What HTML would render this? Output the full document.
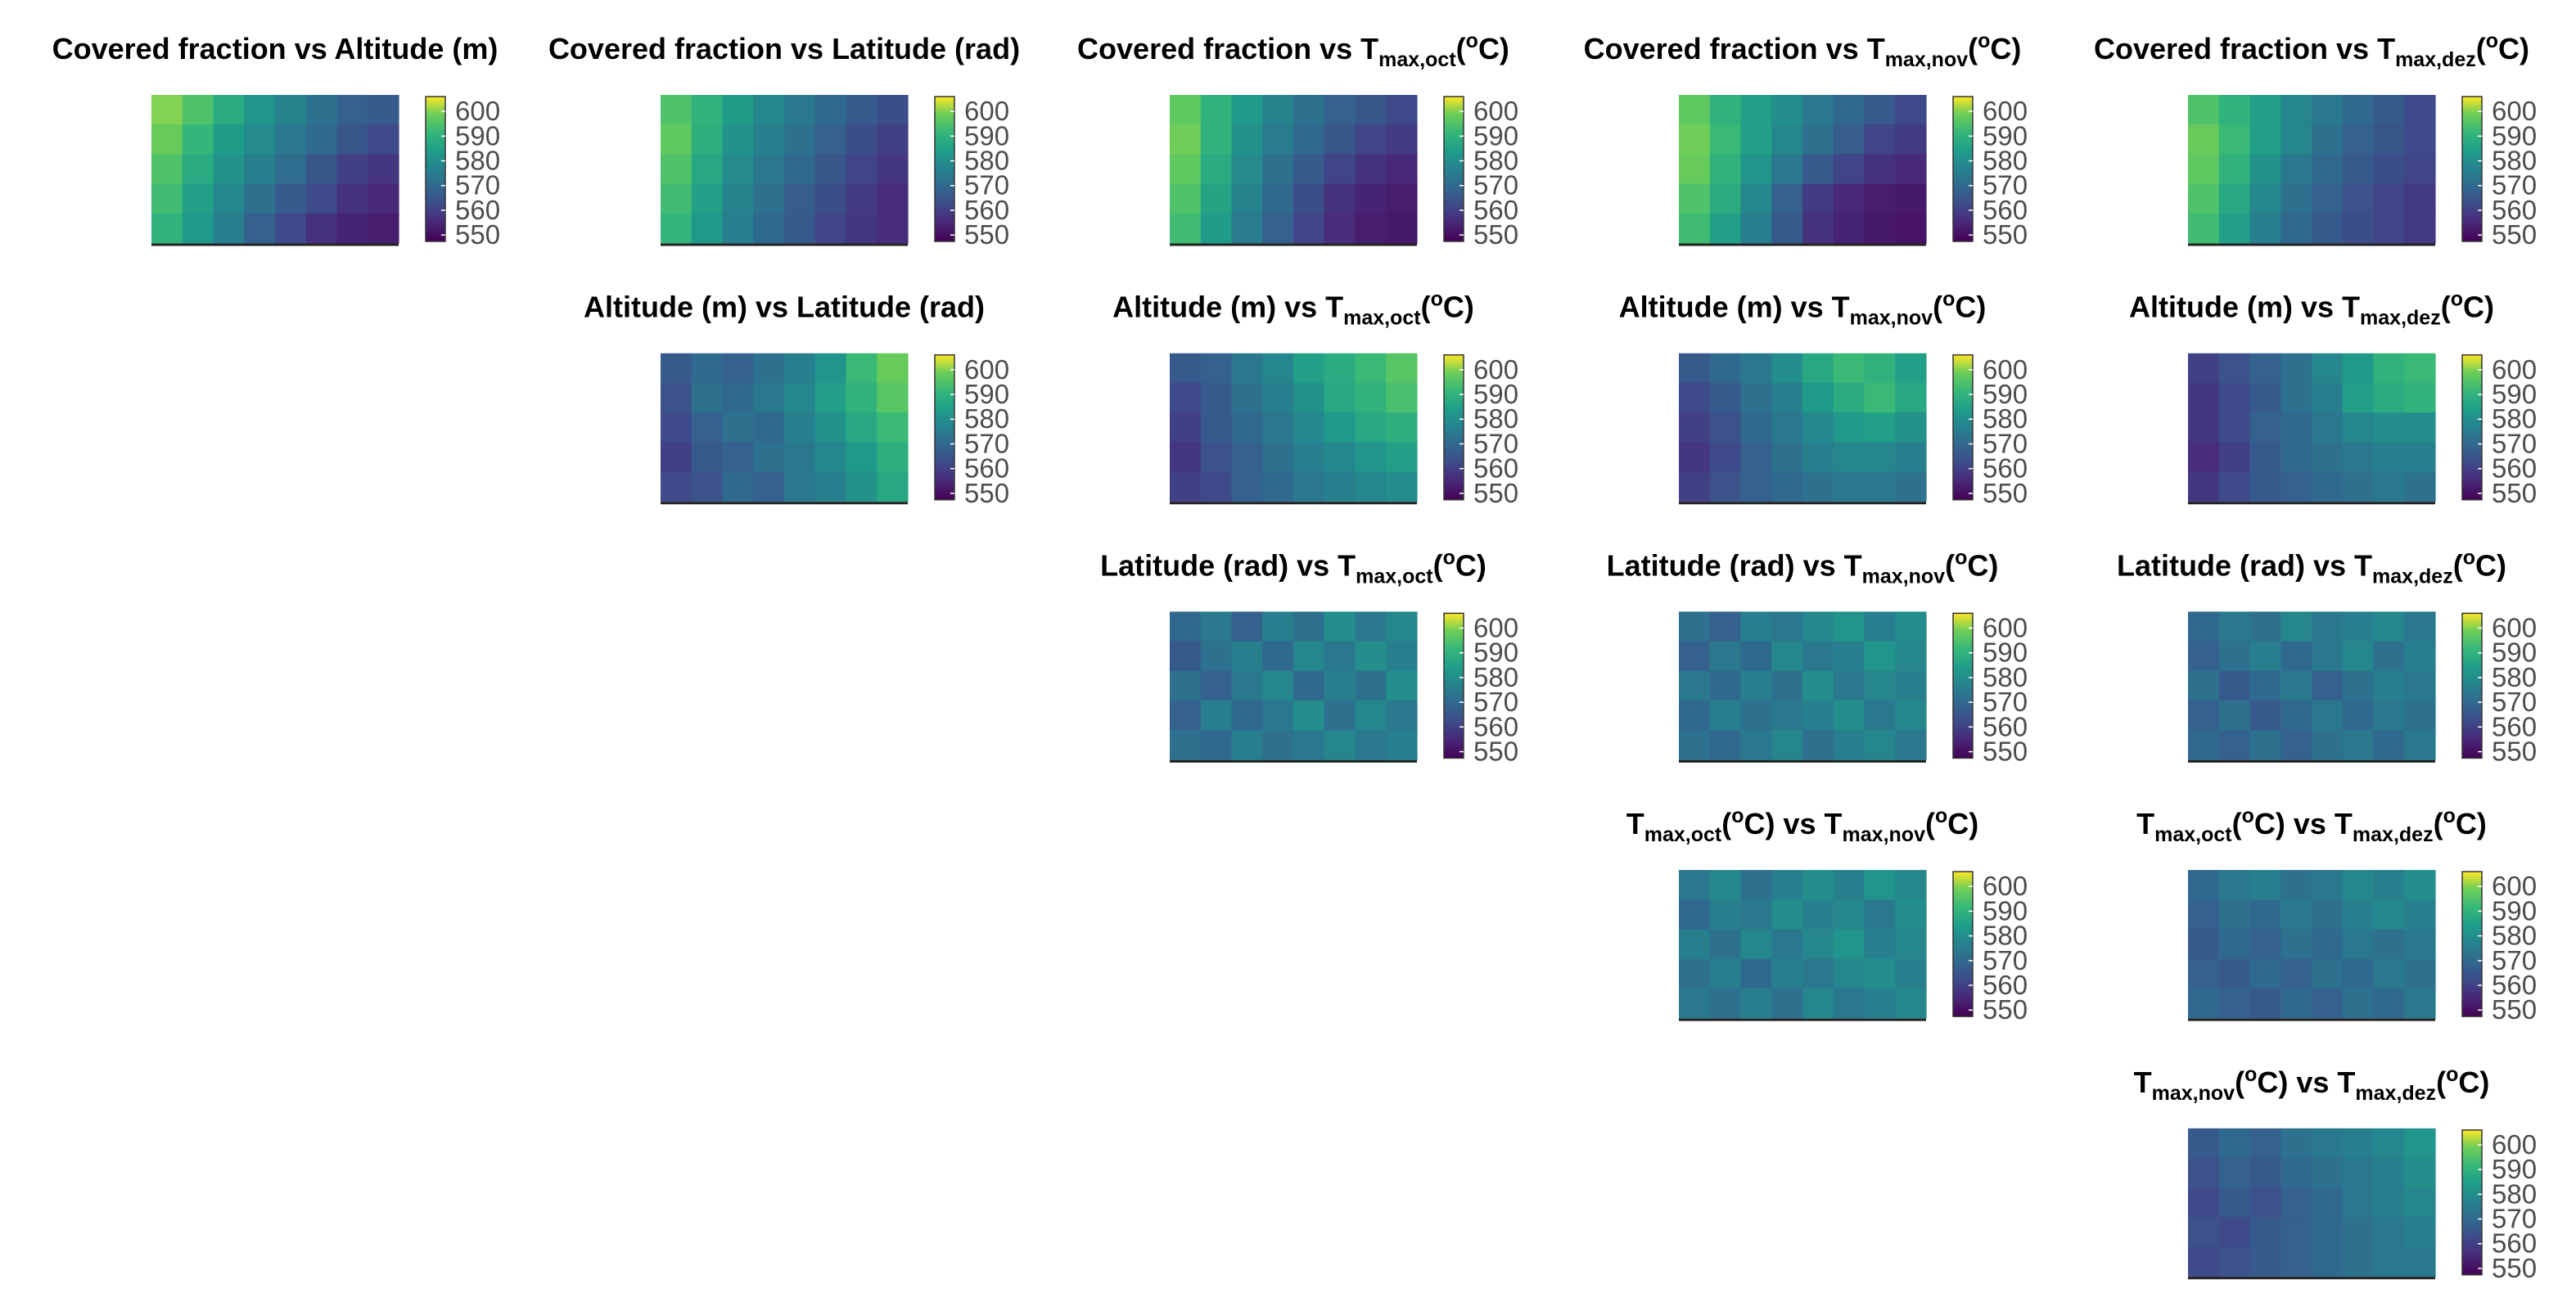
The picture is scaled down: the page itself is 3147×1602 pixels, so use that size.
<!DOCTYPE html>
<html><head><meta charset="utf-8"><style>
html,body{margin:0;padding:0;background:#fff;}
svg{display:block;font-family:"Liberation Sans",Arial,sans-serif;}
</style></head><body>
<svg id="chart" width="3147" height="1602" viewBox="0 0 3147 1602" xmlns="http://www.w3.org/2000/svg">
<defs>
<linearGradient id="viridis" x1="0" y1="1" x2="0" y2="0">
<stop offset="0" stop-color="#440154"/><stop offset="0.13" stop-color="#482878"/>
<stop offset="0.25" stop-color="#3e4a89"/><stop offset="0.38" stop-color="#31688e"/>
<stop offset="0.5" stop-color="#26828e"/><stop offset="0.63" stop-color="#1f9e89"/>
<stop offset="0.75" stop-color="#35b779"/><stop offset="0.88" stop-color="#6ece58"/>
<stop offset="1" stop-color="#fde725"/></linearGradient>
</defs>
</svg>
<script>
// ---- data ----
const rowVars = ["Covered fraction","Altitude (m)","Latitude (rad)","T|oct","T|nov"];
const colVars = ["Altitude (m)","Latitude (rad)","T|oct","T|nov","T|dez"];
const tickLabels = [600,590,580,570,560,550];
const colorMin = 547.4, colorMax = 606;
// 8x5 grids of approximate values (rows top->bottom)
const p00 = [600,595,588,582,577,572,568,566, 598,591,584,579,574,570,565,562, 595,588,581,576,571,565,560,558, 593,585,578,572,566,562,557,555, 590,583,576,568,562,557,554,553];
const p01 = [595,590,584,578,574,570,566,563, 597,589,581,576,572,568,563,560, 595,587,579,574,570,565,561,558, 593,585,577,572,567,563,559,556, 591,583,576,570,566,561,558,556];
const p02 = [597,590,583,577,572,568,565,562, 599,590,581,575,570,565,561,559, 597,588,579,572,566,561,557,555, 595,586,577,570,563,557,554,553, 593,584,575,568,561,556,553,552];
const p03 = [597,590,585,580,574,570,566,562, 599,592,585,578,572,567,561,559, 598,590,582,574,566,561,557,555, 595,588,578,568,559,555,553,552, 593,585,576,566,557,554,552,551];
const p04 = [595,590,585,578,574,570,566,562, 598,592,585,578,572,568,565,562, 597,590,581,574,570,566,563,561, 595,587,578,572,568,564,561,559, 593,585,576,570,566,563,561,559];
const p11 = [566,570,568,572,576,582,592,598, 564,572,570,574,578,585,590,596, 562,568,572,570,576,581,587,592, 560,566,568,572,574,578,583,589, 562,564,570,568,574,576,581,587];
const p12 = [566,568,574,578,585,588,592,596, 562,566,572,576,581,587,590,594, 560,566,570,574,578,583,587,589, 558,564,568,572,576,578,582,585, 560,562,568,570,574,576,578,580];
const p13 = [566,570,574,580,587,592,590,585, 562,566,572,576,583,588,592,587, 560,564,570,574,578,583,585,581, 558,562,568,572,576,578,578,576, 560,564,568,570,572,574,574,572];
const p14 = [560,564,568,572,578,583,590,592, 558,562,566,572,576,585,588,590, 558,562,568,570,574,578,580,580, 556,560,566,570,572,574,576,576, 558,562,566,568,570,572,574,572];
const p22 = [570,574,568,576,572,580,574,578, 566,572,576,570,578,574,580,576, 572,568,574,578,570,576,572,580, 568,576,570,574,580,572,578,574, 572,570,576,572,574,578,574,576];
const p23 = [572,568,576,574,578,582,576,580, 568,574,570,578,574,576,582,578, 574,570,576,572,580,574,578,576, 570,576,572,574,576,580,574,578, 572,570,574,578,572,576,578,574];
const p24 = [570,574,572,578,574,576,578,574, 568,572,576,570,574,578,572,576, 572,566,570,574,568,572,576,574, 568,572,566,570,574,570,574,572, 570,568,572,568,572,574,570,574];
const p33 = [574,578,572,576,580,576,582,578, 570,576,574,580,576,578,574,580, 576,572,578,574,578,582,576,578, 572,576,570,576,574,578,580,576, 574,572,576,572,578,574,576,578];
const p34 = [570,574,576,572,574,578,576,580, 568,572,570,574,572,576,578,576, 566,570,568,572,570,574,572,574, 568,566,570,568,572,570,574,572, 570,568,566,570,568,572,570,574];
const p44 = [566,570,568,572,574,576,578,582, 564,568,566,570,572,574,576,580, 562,566,564,568,570,574,576,578, 564,562,566,568,570,572,574,576, 562,564,566,568,570,572,574,574];
const panelValues = {"0,0":p00,"0,1":p01,"0,2":p02,"0,3":p03,"0,4":p04,"1,1":p11,"1,2":p12,"1,3":p13,"1,4":p14,"2,2":p22,"2,3":p23,"2,4":p24,"3,3":p33,"3,4":p34,"4,4":p44};

// ---- layout ----
const NS="http://www.w3.org/2000/svg";
const svg=document.getElementById('chart');
const plotW=302, plotH=181, colPitch=622, rowPitch=315.7, x0=185, y0=116;
const GX=8, GY=5;
const vstops=[[0,[68,1,84]],[0.13,[72,40,120]],[0.25,[62,74,137]],[0.38,[49,104,142]],[0.5,[38,130,142]],[0.63,[31,158,137]],[0.75,[53,183,121]],[0.88,[110,206,88]],[1,[253,231,37]]];
function viridis(v){
  let t=(v-colorMin)/(colorMax-colorMin); t=Math.max(0,Math.min(1,t));
  for(let i=1;i<vstops.length;i++){ if(t<=vstops[i][0]){const a=vstops[i-1],b=vstops[i];const f=(t-a[0])/(b[0]-a[0]);
    return 'rgb('+a[1].map((c,k)=>Math.round(c+(b[1][k]-c)*f)).join(',')+')';}}
  return 'rgb(253,231,37)';
}
function mk(tag,attrs,parent){const e=document.createElementNS(NS,tag);for(const k in attrs)e.setAttribute(k,attrs[k]);(parent||svg).appendChild(e);return e;}
function addVar(t,name){
  if(name.startsWith('T|')){
    const sub=name.split('|')[1];
    const a=mk('tspan',{},t);a.textContent='T';
    const b=mk('tspan',{'font-size':'25','dy':'9'},t);b.textContent='max,'+sub;
    const c=mk('tspan',{'dy':'-9'},t);c.textContent='(';
    const d=mk('tspan',{'font-size':'25','dy':'-14'},t);d.textContent='o';
    const e=mk('tspan',{'dy':'14'},t);e.textContent='C)';
  } else { const a=mk('tspan',{},t); a.textContent=name; }
}

for(let r=0;r<5;r++){for(let c=r;c<5;c++){
  const px=x0+c*colPitch, py=y0+r*rowPitch;
  const g=mk('g',{});
  
  
  const t=mk('text',{x:px+plotW/2,y:py-44,'text-anchor':'middle','font-size':'36','font-weight':'bold',fill:'#000'},g);
  
  
  addVar(t,rowVars[r]); const vs=mk('tspan',{},t); vs.textContent=' vs '; addVar(t,colVars[c]);
  const vals=panelValues[r+','+c];
  const cw=plotW/GX, ch=plotH/GY;
  for(let i=0;i<GY;i++)for(let j=0;j<GX;j++){
    const cell=mk('rect',{x:px+j*cw,y:py+i*ch,width:cw+0.6,height:ch+0.6,fill:viridis(vals[i*GX+j])},g);
    
    
  }
  const ax=mk('line',{x1:px,y1:py+plotH+2,x2:px+plotW,y2:py+plotH+2,stroke:'#222','stroke-width':3},g);
  
  
  const cb=mk('rect',{x:px+335,y:py+2,width:24,height:plotH-4,fill:'url(#viridis)',stroke:'#333','stroke-width':1.5},g);
  
  
  tickLabels.forEach(v=>{
    const yy=py+2+(colorMax-v)/(colorMax-colorMin)*(plotH-4);
    const tk=mk('line',{x1:px+354,y1:yy,x2:px+359,y2:yy,stroke:'#fff','stroke-width':1.5},g);
    
    
    const lt=mk('text',{x:px+371,y:yy+11,'font-size':'33',fill:'#4d4d4d'},g);
    
    
    lt.textContent=v;
  });
}}
</script>
</body></html>
